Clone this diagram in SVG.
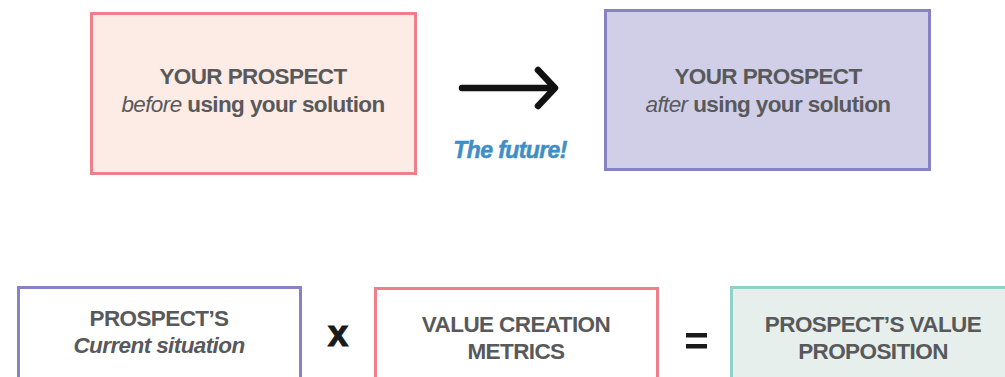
<svg xmlns="http://www.w3.org/2000/svg" width="1005" height="377" viewBox="0 0 1005 377">
<style>
.t{font-family:"Liberation Sans",Arial,sans-serif;font-weight:700;font-size:22.5px;fill:#58595b;text-anchor:middle;letter-spacing:-0.6px}
.i{font-style:italic}
.op{font-family:"Liberation Sans",Arial,sans-serif;font-weight:700;font-size:37px;fill:#1a1a1a;stroke:#1a1a1a;stroke-width:1;text-anchor:middle}
</style>
<rect width="1005" height="377" fill="#fff"/>
<g id="before">
<rect x="91.5" y="13.5" width="324" height="160" fill="#fdebe6" stroke="#f07f8c" stroke-width="3"/>
<text class="t" x="253" y="84">YOUR PROSPECT</text>
<text class="t" x="253" y="112"><tspan class="i" font-weight="400">before</tspan> using your solution</text>
</g>
<g id="after">
<rect x="605.5" y="10.5" width="324" height="159" fill="#d1cfe8" stroke="#8783c3" stroke-width="3"/>
<text class="t" x="768" y="84">YOUR PROSPECT</text>
<text class="t" x="768" y="112"><tspan class="i" font-weight="400">after</tspan> using your solution</text>
</g>
<g id="connectors">
<path d="M462 88 H554 M538 70 L555 88 L538 106" fill="none" stroke="#111" stroke-width="6.5" stroke-linecap="round" stroke-linejoin="round"/>
<text x="510" y="158" font-family="'Liberation Sans',Arial,sans-serif" font-weight="700" font-style="italic" font-size="23px" fill="#3f8ec6" stroke="#3f8ec6" stroke-width="0.5" text-anchor="middle" letter-spacing="-0.6">The future!</text>
</g>
<g id="current">
<rect x="18.5" y="287.5" width="282" height="100" fill="#fff" stroke="#8783c3" stroke-width="3"/>
<text class="t" x="159" y="326">PROSPECT’S</text>
<text class="t i" x="159" y="353" font-weight="400">Current situation</text>
</g>
<text class="op" x="338" y="346">x</text>
<g id="metrics">
<rect x="375.5" y="288.5" width="282" height="100" fill="#fff" stroke="#f07f8c" stroke-width="3"/>
<text class="t" x="516" y="332">VALUE CREATION</text>
<text class="t" x="516" y="359">METRICS</text>
</g>
<g id="equals">
<rect x="686" y="333" width="21" height="4.5" fill="#1a1a1a"/>
<rect x="686" y="344" width="21" height="4.5" fill="#1a1a1a"/>
</g>
<g id="value">
<rect x="731.5" y="287.5" width="290" height="100" fill="#e6efec" stroke="#8fd3c6" stroke-width="3"/>
<text class="t" x="873" y="332">PROSPECT’S VALUE</text>
<text class="t" x="873" y="359">PROPOSITION</text>
</g>
</svg>
